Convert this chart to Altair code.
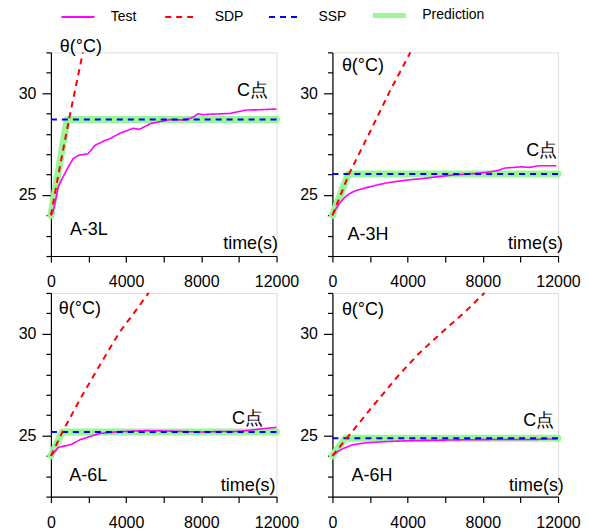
import altair as alt
import pandas as pd

FONT = "Liberation Sans, Arial, sans-serif"

SERIES = ["Test", "SDP", "SSP", "Prediction"]
COLORS = ["#FF00FF", "#FF0000", "#0000FF", "#98F898"]
DASHES = [[1, 0], [6, 5], [6, 5], [1, 0]]
WIDTHS = {"Test": 1.6, "SDP": 2, "SSP": 2, "Prediction": 7}

X_TICKS = [0, 2000, 4000, 6000, 8000, 10000, 12000]
Y_TICKS = [22, 23, 24, 25, 26, 27, 28, 29, 30, 31, 32]

# ---- A-3L ----
a3l_test_t = [0, 90, 212, 389, 654, 920, 1184, 1450, 1980, 2336, 2867, 3133, 3670, 4379, 4700,
              5089, 5257, 5798, 6330, 7025, 7216, 7556, 7822, 8088, 8400, 9504, 10391, 11000, 12000]
a3l_test_v = [24.0, 24.1, 24.57, 25.4, 25.9, 26.37, 26.78, 26.94, 27.02, 27.43, 27.67, 27.76, 28.03,
              28.27, 28.22, 28.4, 28.49, 28.6, 28.7, 28.68, 28.71, 28.81, 28.98, 28.94, 28.96, 29.0,
              29.17, 29.18, 29.22]
a3l_sdp_t = [0, 480, 960, 1330, 1700]
a3l_sdp_v = [24.0, 26.4, 28.7, 30.35, 32.0]
a3l_ssp = 28.7
a3l_corner = 866

# ---- A-3H ----
a3h_test_t = [0, 176, 353, 618, 882, 1235, 1765, 2294, 2823, 3524, 4053, 4765, 5647, 6529, 7412,
              8294, 8800, 9176, 10059, 10500, 10941, 11912]
a3h_test_v = [24.0, 24.31, 24.56, 24.85, 25.05, 25.21, 25.35, 25.47, 25.58, 25.68, 25.74, 25.8,
              25.9, 25.99, 26.04, 26.12, 26.2, 26.32, 26.38, 26.35, 26.43, 26.43]
a3h_sdp_t = [0, 882, 2000, 3000, 4144]
a3h_sdp_v = [24.0, 26.03, 28.1, 30.0, 32.0]
a3h_ssp = 26.03
a3h_corner = 850

# ---- A-6L ----
a6l_test_t = [0, 265, 390, 743, 1098, 1540, 2071, 2602, 3487, 4195, 5000, 5788, 6152, 7000, 7925,
              9000, 9698, 10500, 11116, 12000]
a6l_test_v = [24.0, 24.28, 24.41, 24.49, 24.57, 24.79, 24.95, 25.1, 25.18, 25.21, 25.24, 25.23,
              25.22, 25.2, 25.17, 25.2, 25.19, 25.25, 25.32, 25.4]
a6l_sdp_t = [0, 600, 1500, 2500, 3600, 5200]
a6l_sdp_v = [24.0, 25.15, 26.7, 28.3, 30.0, 32.0]
a6l_ssp = 25.17
a6l_corner = 600

# ---- A-6H ----
a6h_test_t = [0, 264, 617, 1055, 1758, 2813, 4220, 5626, 7000, 8294, 9500, 10500, 12000]
a6h_test_v = [24.0, 24.21, 24.38, 24.54, 24.64, 24.7, 24.75, 24.77, 24.79, 24.8, 24.81, 24.8, 24.84]
a6h_sdp_t = [0, 1055, 2110, 3517, 4573, 5802, 7033, 8088]
a6h_sdp_v = [24.0, 25.2, 26.4, 27.95, 29.0, 30.05, 31.05, 32.0]
a6h_ssp = 24.87
a6h_corner = 680

START = 24.0
END_T = 12000

# annotation text: [label, time, temp]
a3l_notes = [["θ(°C)", 1593, 32.26], ["C点", 10726, 30.1], ["A-3L", 2018, 23.28], ["time(s)", 10620, 22.6]]
a3h_notes = [["θ(°C)", 1622, 31.34], ["C点", 11130, 27.17], ["A-3H", 1887, 23.03], ["time(s)", 10800, 22.6]]
a6l_notes = [["θ(°C)", 1540, 31.23], ["C点", 10460, 25.79], ["A-6L", 1990, 23.03], ["time(s)", 10490, 22.51]]
a6h_notes = [["θ(°C)", 1622, 31.18], ["C点", 10970, 25.71], ["A-6H", 2100, 23.03], ["time(s)", 10850, 22.53]]

xaxis = alt.Axis(values=X_TICKS, format="d",
                 labelExpr="datum.value % 4000 === 0 ? datum.label : ''",
                 tickSize=6, labelPadding=12, labelFontSize=16, labelFont=FONT, labelColor="black",
                 labelFlush=False, labelOverlap=False, grid=False, title=None,
                 domainColor="black", tickColor="black", domainWidth=1.2, tickWidth=1.2)
yaxis = alt.Axis(values=Y_TICKS, format="d",
                 labelExpr="datum.value % 5 === 0 ? datum.label : ''",
                 tickSize={"condition": {"test": "datum.value % 5 === 0", "value": 9}, "value": 5},
                 labelPadding=6, labelFontSize=16, labelFont=FONT, labelColor="black",
                 labelOverlap=False, grid=False, title=None,
                 domainColor="black", tickColor="black", domainWidth=1.2, tickWidth=1.2)

legend = alt.Legend(orient="none", legendX=20, legendY=-44, direction="horizontal", columns=4,
                    title=None, symbolType="stroke", symbolSize=1089, labelFontSize=14,
                    labelFont=FONT, labelColor="black", labelOffset=26, columnPadding=-19,
                    gridAlign="all",
                    symbolStrokeWidth=alt.ExprRef("datum.value === 'Prediction' ? 5 : 2"))

xs = alt.Scale(domain=[0, 12000], nice=False, zero=False)
ys = alt.Scale(domain=[22, 32], nice=False, zero=False)


def panel(test_t, test_v, sdp_t, sdp_v, ssp, corner, notes):
    rows = []
    for t, v in zip(test_t, test_v):
        rows.append({"time": t, "temp": v, "series": "Test"})
    for t, v in zip(sdp_t, sdp_v):
        rows.append({"time": t, "temp": v, "series": "SDP"})
    rows.append({"time": 0, "temp": ssp, "series": "SSP"})
    rows.append({"time": END_T, "temp": ssp, "series": "SSP"})
    rows.append({"time": 0, "temp": START, "series": "Prediction"})
    rows.append({"time": corner, "temp": ssp, "series": "Prediction"})
    rows.append({"time": END_T, "temp": ssp, "series": "Prediction"})
    df = pd.DataFrame(rows)
    base = alt.Chart(df).encode(
        x=alt.X("time:Q", scale=xs, axis=xaxis),
        y=alt.Y("temp:Q", scale=ys, axis=yaxis),
        color=alt.Color("series:N", scale=alt.Scale(domain=SERIES, range=COLORS), legend=legend),
        strokeDash=alt.StrokeDash("series:N", scale=alt.Scale(domain=SERIES, range=DASHES), legend=legend),
    )
    layers = []
    for s in ["Prediction", "Test", "SSP", "SDP"]:
        cap = "round" if s == "Prediction" else "butt"
        layers.append(base.transform_filter(alt.datum.series == s)
                      .mark_line(strokeCap=cap, strokeJoin="round", strokeWidth=WIDTHS[s]))
    ndf = pd.DataFrame(notes, columns=["label", "time", "temp"])
    txt = alt.Chart(ndf).mark_text(font=FONT, fontSize=18, color="black", align="center",
                                   baseline="middle").encode(
        x=alt.X("time:Q", scale=xs, axis=xaxis),
        y=alt.Y("temp:Q", scale=ys, axis=yaxis),
        text="label:N",
    )
    return alt.layer(*layers, txt).properties(width=226, height=204)


p1 = panel(a3l_test_t, a3l_test_v, a3l_sdp_t, a3l_sdp_v, a3l_ssp, a3l_corner, a3l_notes)
p2 = panel(a3h_test_t, a3h_test_v, a3h_sdp_t, a3h_sdp_v, a3h_ssp, a3h_corner, a3h_notes)
p3 = panel(a6l_test_t, a6l_test_v, a6l_sdp_t, a6l_sdp_v, a6l_ssp, a6l_corner, a6l_notes)
p4 = panel(a6h_test_t, a6h_test_v, a6h_sdp_t, a6h_sdp_v, a6h_ssp, a6h_corner, a6h_notes)

chart = alt.concat(p1, p2, p3, p4, columns=2, spacing={"row": 37, "column": 56}, bounds="flush") \
    .resolve_scale(color="shared", strokeDash="shared") \
    .resolve_legend(color="shared", strokeDash="shared") \
    .properties(padding={"left": 9, "top": 0, "right": 0, "bottom": 0}) \
    .configure_view(stroke=None) \
    .configure(background="white")

chart.save("out.html", embed_options={"renderer": "svg", "actions": False})
